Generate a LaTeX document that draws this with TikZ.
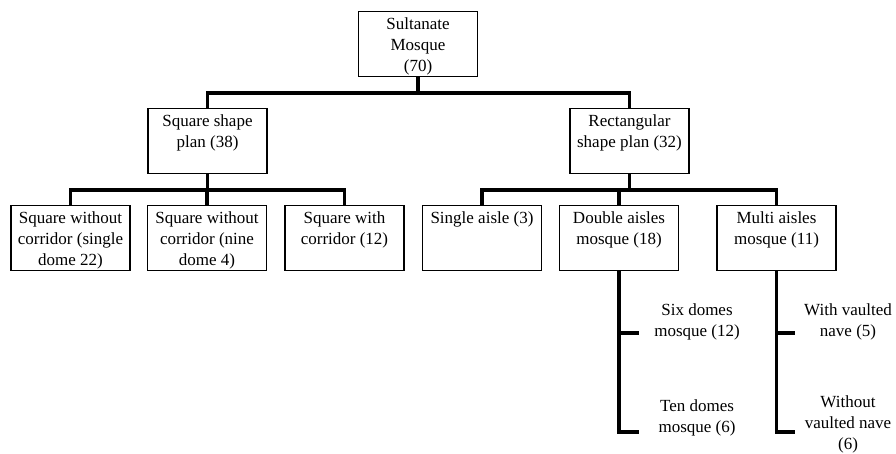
\documentclass[tikz,border=0pt]{standalone}
\usepackage{fontspec}
\setmainfont{Liberation Serif}
\usepackage{tikz}
\usetikzlibrary{calc}

% box text: fixed size, lines set from the top
\newcommand{\boxtext}[1]{\parbox[c][65pt][t]{119pt}{\centering\rule{0pt}{18pt}#1}}

\begin{document}
\begin{tikzpicture}[x=1pt, y=-1pt,
        every node/.style={font=\fontsize{17pt}{21pt}\selectfont},
        box/.style={draw, line width=1.3pt, inner sep=0pt},
        leaf/.style={align=center, inner sep=0pt},
        link/.style={line width=3.6pt, line join=miter}]
        \useasboundingbox (0,0) rectangle (896,454);

        % Top level
        \node[box] (root) at (418,44) {\boxtext{Sultanate\\Mosque\\(70)}};

        % Plan types
        \node[box] (sq) at (207.5,141) {\boxtext{Square shape\\plan (38)}};
        \node[box] (rect) at (629.5,141) {\boxtext{Rectangular\\shape plan (32)}};

        % Square plans
        \node[box] (sqsingle) at (70.5,238) {\boxtext{Square without\\corridor (single\\dome 22)}};
        \node[box] (sqnine) at (207,238) {\boxtext{Square without\\corridor (nine\\dome 4)}};
        \node[box] (sqcorr) at (344.5,238) {\boxtext{Square with\\corridor (12)}};

        % Rectangular plans
        \node[box] (single) at (482,238) {\boxtext{Single aisle (3)}};
        \node[box] (double) at (619,238) {\boxtext{Double aisles\\mosque (18)}};
        \node[box] (multi) at (776.5,238) {\boxtext{Multi aisles\\mosque (11)}};

        % Sub types, without boxes
        \node[leaf] (sixdome) at (697,322) {Six domes\\mosque (12)};
        \node[leaf] (tendome) at (697,418) {Ten domes\\mosque (6)};
        \node[leaf] (vaulted) at (848,322) {With vaulted\\nave (5)};
        \node[leaf] (novault) at (848,424) {Without\\vaulted nave\\(6)};
        \coordinate (sixtick) at (639,333);
        \coordinate (tentick) at (639,432);
        \coordinate (vaulttick) at (795,333);
        \coordinate (novaulttick) at (795,432);

        % Connectors
        \draw[link] (root.south) -- ++(0,16) -| (sq.north);
        \draw[link] (root.south) -- ++(0,16) -| (rect.north);
        \draw[link] (sq.south) -- ++(0,16) -| (sqsingle.north);
        \draw[link] (sq.south) -- ++(0,16) -| (sqnine.north);
        \draw[link] (sq.south) -- ++(0,16) -| (sqcorr.north);
        \draw[link] (rect.south) -- ++(0,16) -| (single.north);
        \draw[link] (rect.south) -- ++(0,16) -| (double.north);
        \draw[link] (rect.south) -- ++(0,16) -| (multi.north);
        \draw[link] (double.south) |- (sixtick);
        \draw[link] (double.south) |- (tentick);
        \draw[link] (multi.south) |- (vaulttick);
        \draw[link] (multi.south) |- (novaulttick);
\end{tikzpicture}
\end{document}
